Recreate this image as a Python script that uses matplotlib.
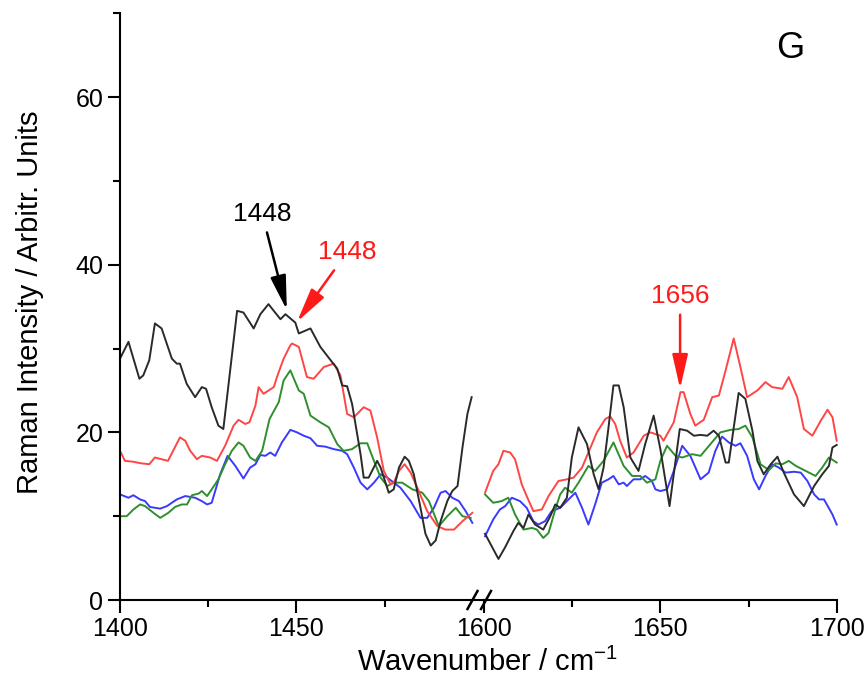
import matplotlib
matplotlib.use("Agg")
import matplotlib.pyplot as plt
from matplotlib.lines import Line2D
from matplotlib.ticker import FixedLocator

plt.rcParams['font.family'] = ['Liberation Sans', 'DejaVu Sans']
plt.rcParams['mathtext.default'] = 'regular'

# ---------------- data: left segment (1400-1500 cm-1) ----------------
black_l_x = [1400, 1402.4, 1405.5, 1406.6, 1408.3, 1409.9, 1411.8, 1414.7, 1416.1, 1417.0, 1418.9, 1421.3,
             1423.2, 1424.4, 1426.0, 1427.9, 1429.3, 1433.2, 1435.0, 1437.9, 1439.8, 1442.1, 1443.6, 1445.5,
             1446.9, 1449.7, 1450.7, 1454.0, 1456.8, 1460.1, 1461.6, 1463.0, 1464.4, 1465.8, 1468.2, 1469.1,
             1470.5, 1472.9, 1473.9, 1476.2, 1477.6, 1479.1, 1480.7, 1481.9, 1483.3, 1485.2, 1486.6, 1488.1,
             1489.5, 1490.9, 1492.8, 1494.2, 1495.7, 1497.1, 1498.5, 1499.7]
black_l_y = [28.8, 30.8, 26.4, 26.8, 28.6, 33.0, 32.4, 28.8, 28.2, 28.2, 25.8, 24.2,
             25.4, 25.2, 23.0, 20.8, 20.4, 34.5, 34.3, 32.4, 34.1, 35.3, 34.5, 33.5,
             34.1, 33.1, 31.8, 32.4, 30.2, 28.4, 27.6, 25.6, 25.5, 23.4, 17.4, 14.6,
             14.6, 16.6, 15.8, 12.8, 13.2, 15.8, 17.1, 16.6, 15.0, 11.0, 7.9, 6.5,
             7.1, 9.4, 11.8, 13.0, 13.6, 18.2, 22.2, 24.2]

red_l_x = [1400, 1401.4, 1403.7, 1406.1, 1408.3, 1409.9, 1413.6, 1417.0, 1418.5, 1419.9, 1421.8, 1423.2,
           1425.6, 1427.5, 1429.8, 1432.2, 1433.6, 1435.5, 1436.7, 1438.4, 1439.3, 1440.7, 1443.6, 1444.5,
           1446.4, 1448.3, 1448.8, 1450.7, 1453.0, 1454.9, 1457.8, 1460.6, 1462.5, 1464.4, 1466.3, 1469.1,
           1471.0, 1472.9, 1474.8, 1476.7, 1477.6, 1479.1, 1480.7, 1482.4, 1484.3, 1487.1, 1490.0, 1492.3,
           1494.7, 1497.1, 1499.9]
red_l_y = [17.8, 16.6, 16.5, 16.3, 16.2, 17.0, 16.6, 19.4, 19.0, 17.8, 16.8, 17.2,
           17.0, 16.6, 18.4, 20.8, 21.5, 21.0, 21.2, 23.2, 25.4, 24.6, 25.4, 26.6,
           28.8, 30.4, 30.6, 30.2, 26.6, 26.4, 27.8, 28.2, 26.8, 22.2, 21.8, 23.0,
           22.6, 19.4, 15.4, 13.8, 14.0, 15.4, 16.2, 15.2, 13.4, 10.6, 8.8, 8.4,
           8.4, 9.4, 10.4]

green_l_x = [1400, 1401.9, 1403.8, 1405.7, 1407.1, 1409.5, 1411.4, 1413.7, 1415.6, 1417.5, 1419.0, 1420.4,
             1422.3, 1423.2, 1424.7, 1426.0, 1427.9, 1429.8, 1431.7, 1433.6, 1435.0, 1436.9, 1438.4, 1440.3,
             1442.4, 1445.0, 1446.4, 1448.3, 1450.7, 1452.1, 1454.0, 1456.8, 1459.2, 1461.6, 1463.4, 1465.8,
             1468.2, 1470.1, 1472.0, 1473.9, 1475.8, 1477.6, 1480.0, 1482.9, 1485.7, 1487.6, 1490.4, 1492.8,
             1495.2, 1497.1, 1499.4]
green_l_y = [10.0, 10.0, 10.8, 11.4, 11.2, 10.4, 9.8, 10.4, 11.1, 11.4, 11.4, 12.5,
             12.7, 13.0, 12.4, 13.2, 14.4, 16.2, 17.8, 18.8, 18.4, 17.0, 16.6, 17.8,
             21.6, 23.6, 26.2, 27.4, 25.0, 24.6, 22.0, 21.2, 20.6, 18.6, 17.8, 18.0,
             18.7, 18.7, 16.6, 14.6, 13.6, 14.0, 14.0, 13.2, 12.8, 11.8, 8.8, 10.0,
             11.0, 10.0, 9.8]

blue_l_x = [1400, 1402.4, 1403.8, 1405.7, 1407.1, 1408.5, 1411.4, 1413.3, 1416.1, 1418.5, 1421.3, 1423.2,
            1424.7, 1426.0, 1428.4, 1430.5, 1432.7, 1435.0, 1436.9, 1438.4, 1439.8, 1441.2, 1442.6, 1444.0,
            1445.9, 1448.3, 1450.2, 1452.1, 1454.0, 1455.9, 1458.2, 1460.6, 1463.0, 1464.4, 1466.3, 1468.2,
            1470.1, 1472.0, 1473.9, 1475.8, 1477.6, 1479.5, 1482.4, 1485.2, 1487.1, 1489.0, 1490.9, 1492.3,
            1494.2, 1496.1, 1498.0, 1499.9]
blue_l_y = [12.6, 12.2, 12.5, 12.0, 11.8, 11.1, 10.9, 11.2, 12.0, 12.4, 12.2, 11.8,
            11.4, 11.6, 15.0, 17.2, 16.0, 14.5, 15.8, 16.2, 17.3, 17.2, 17.6, 17.2,
            18.8, 20.3, 20.0, 19.6, 19.3, 18.4, 18.3, 18.0, 17.8, 17.4, 15.8, 14.0,
            13.2, 14.0, 15.0, 14.6, 14.0, 13.4, 11.8, 9.8, 9.8, 11.0, 12.8, 13.0,
            12.2, 11.8, 10.6, 9.2]

# ---------------- data: right segment (1600-1700 cm-1) ----------------
black_r_x = [1600.3, 1604.1, 1606.0, 1608.3, 1609.7, 1611.2, 1612.6, 1614.5, 1616.8, 1618.8, 1620.2, 1621.6,
             1623.5, 1624.9, 1626.8, 1629.2, 1631.1, 1632.5, 1633.9, 1635.3, 1636.7, 1638.2, 1639.6, 1641.5,
             1643.8, 1645.7, 1648.1, 1650.0, 1652.6, 1655.5, 1657.6, 1659.5, 1661.4, 1663.3, 1665.1, 1666.6,
             1668.5, 1669.4, 1672.2, 1674.1, 1676.1, 1677.5, 1679.3, 1681.3, 1683.2, 1685.0, 1687.9, 1690.7,
             1693.6, 1695.9, 1697.8, 1698.8, 1700.0]
black_r_y = [7.9, 4.9, 6.3, 8.2, 9.2, 8.6, 10.2, 9.0, 8.4, 10.0, 11.4, 11.0,
             12.2, 17.0, 20.6, 18.6, 15.0, 13.2, 15.8, 20.6, 25.6, 25.6, 23.0, 17.0,
             15.4, 18.6, 22.0, 18.0, 11.2, 20.4, 20.2, 19.6, 19.7, 19.6, 20.2, 19.6,
             16.4, 16.4, 24.7, 24.0, 20.2, 16.6, 15.0, 16.2, 17.1, 15.2, 12.6, 11.2,
             13.6, 15.0, 16.0, 18.2, 18.5]

red_r_x = [1600.3, 1602.6, 1604.1, 1605.5, 1607.4, 1608.8, 1610.7, 1612.1, 1614.0, 1616.4, 1618.3, 1621.1,
           1623.5, 1625.4, 1627.8, 1629.6, 1632.0, 1634.4, 1635.8, 1637.2, 1638.6, 1640.5, 1642.4, 1645.3,
           1647.2, 1650.0, 1650.9, 1653.8, 1655.7, 1656.6, 1658.5, 1659.9, 1662.3, 1664.7, 1666.6, 1668.5,
           1670.8, 1672.7, 1674.6, 1677.5, 1679.8, 1681.7, 1684.6, 1686.4, 1688.8, 1690.7, 1693.1, 1695.5,
           1697.4, 1698.8, 1700.0]
red_r_y = [12.8, 15.4, 16.2, 17.8, 17.6, 16.8, 13.8, 12.4, 10.6, 10.8, 12.4, 14.2,
           14.4, 14.6, 15.8, 17.6, 20.0, 21.6, 21.9, 21.0, 19.0, 17.0, 17.6, 19.6,
           20.0, 19.6, 19.0, 21.2, 24.8, 24.8, 22.2, 20.8, 21.5, 24.2, 24.4, 27.4,
           31.2, 27.8, 24.2, 25.0, 26.0, 25.4, 25.2, 26.6, 24.2, 20.4, 19.6, 21.4,
           22.7, 21.8, 19.0]

green_r_x = [1600.3, 1602.6, 1605.0, 1606.9, 1608.8, 1611.2, 1613.6, 1615.0, 1616.8, 1618.3, 1620.2, 1621.6,
             1623.0, 1624.9, 1626.8, 1629.6, 1631.5, 1633.9, 1636.7, 1639.6, 1642.0, 1644.3, 1646.2, 1648.6,
             1650.0, 1651.9, 1654.3, 1656.2, 1659.0, 1661.4, 1664.2, 1667.0, 1669.9, 1672.2, 1674.1, 1676.1,
             1678.4, 1680.8, 1682.7, 1684.6, 1686.4, 1688.4, 1691.2, 1694.0, 1695.9, 1697.8, 1700.0]
green_r_y = [12.6, 11.6, 11.8, 12.2, 10.2, 8.4, 8.6, 8.4, 7.4, 8.0, 10.8, 12.6,
             13.4, 12.8, 14.0, 16.0, 15.4, 16.6, 18.8, 16.0, 14.8, 14.8, 14.0, 14.4,
             16.6, 18.4, 17.2, 17.0, 17.4, 17.2, 18.6, 20.0, 20.3, 20.4, 20.8, 19.4,
             16.2, 15.5, 16.3, 16.2, 16.6, 16.0, 15.4, 14.8, 15.8, 17.0, 16.4]

blue_r_x = [1600.3, 1602.6, 1604.5, 1606.0, 1607.9, 1610.2, 1612.1, 1614.0, 1615.4, 1617.3, 1619.2, 1621.6,
            1623.5, 1625.9, 1627.8, 1629.6, 1631.5, 1633.4, 1635.3, 1636.7, 1638.2, 1639.6, 1640.5, 1642.4,
            1644.3, 1645.7, 1647.6, 1648.6, 1650.0, 1651.9, 1653.8, 1656.2, 1658.5, 1661.4, 1663.7, 1665.6,
            1667.5, 1669.4, 1671.3, 1672.7, 1674.6, 1676.5, 1678.0, 1679.8, 1681.7, 1683.6, 1685.5, 1687.9,
            1689.8, 1691.7, 1693.6, 1695.0, 1696.4, 1698.8, 1700.0]
blue_r_y = [7.6, 9.6, 10.8, 11.2, 12.2, 11.8, 11.0, 9.4, 9.0, 9.4, 10.6, 11.0,
            11.8, 12.8, 11.0, 9.0, 11.4, 14.0, 14.4, 14.8, 13.8, 14.0, 13.6, 14.4,
            14.4, 14.8, 14.2, 13.2, 13.0, 13.2, 15.4, 18.4, 17.2, 14.4, 15.2, 17.8,
            19.5, 18.8, 18.4, 18.7, 17.2, 14.4, 13.2, 14.8, 16.2, 15.8, 15.2, 15.3,
            15.2, 14.2, 12.6, 12.0, 12.0, 10.2, 9.0]

x_major_left = [1400, 1450]
x_minor_left = [1425, 1475]
x_major_right = [1600, 1650, 1700]
x_minor_right = [1625, 1675]
y_major = [0, 20, 40, 60]
y_minor = [10, 30, 50, 70]

# ---------------- figure ----------------
W, H = 868, 687
fig = plt.figure(figsize=(W / 100, H / 100), dpi=100)

def fx(px):
    return px / W

def fy(py):
    return 1 - py / H

x0, xb, x1 = 120, 484, 836.7
ytop, ybot = 13.3, 600
ax1 = fig.add_axes([fx(x0), fy(ybot), fx(xb - x0), (ybot - ytop) / H])
ax2 = fig.add_axes([fx(xb), fy(ybot), fx(x1 - xb), (ybot - ytop) / H])

scale = (x1 - xb) / 100.0
ax1.set_xlim(1400, 1400 + (xb - x0) / scale)
ax2.set_xlim(1600, 1700)
for ax in (ax1, ax2):
    ax.set_ylim(0, 70)
    ax.spines['top'].set_visible(False)
    ax.spines['right'].set_visible(False)
    ax.spines['bottom'].set_linewidth(1.5)
    ax.spines['left'].set_linewidth(1.5)
    ax.tick_params(which='major', direction='out', length=9, width=1.5, labelsize=18, pad=3)
    ax.tick_params(which='minor', direction='out', length=5, width=1.5)
ax2.spines['left'].set_visible(False)
ax2.tick_params(axis='y', which='both', left=False, labelleft=False)

ax1.xaxis.set_major_locator(FixedLocator(x_major_left))
ax1.xaxis.set_minor_locator(FixedLocator(x_minor_left))
ax2.xaxis.set_major_locator(FixedLocator(x_major_right))
ax2.xaxis.set_minor_locator(FixedLocator(x_minor_right))
ax1.yaxis.set_major_locator(FixedLocator(y_major))
ax1.yaxis.set_minor_locator(FixedLocator(y_minor))
ax1.set_xticklabels([str(v) for v in x_major_left])
ax2.set_xticklabels([str(v) for v in x_major_right])
ax1.set_yticklabels([str(v) for v in y_major])

c_black = '#2a2a2a'
c_red = '#ff4545'
c_green = '#2f8f2f'
c_blue = '#3a3aff'
lw = 1.4
for ax, sets in ((ax1, [(blue_l_x, blue_l_y, c_blue), (green_l_x, green_l_y, c_green),
                        (red_l_x, red_l_y, c_red), (black_l_x, black_l_y, c_black)]),
                 (ax2, [(blue_r_x, blue_r_y, c_blue), (green_r_x, green_r_y, c_green),
                        (red_r_x, red_r_y, c_red), (black_r_x, black_r_y, c_black)])):
    for xs, ys, c in sets:
        ax.plot(xs, ys, color=c, lw=lw, clip_on=False)

# annotations
arrow_kw = dict(arrowstyle='-|>,head_length=1.1,head_width=0.25', lw=1.8, shrinkA=3, shrinkB=0)
ax1.annotate('1448', xy=(1447.3, 34.6), xytext=(1440.3, 46.1), fontsize=19, color='black',
             ha='center', va='center', arrowprops=dict(color='black', **arrow_kw))
ax1.annotate('1448', xy=(1450.2, 33.2), xytext=(1464.4, 41.5), fontsize=19, color='#ff1a1a',
             ha='center', va='center', arrowprops=dict(color='#ff1a1a', **arrow_kw))
ax2.annotate('1656', xy=(1655.6, 25.2), xytext=(1655.6, 36.3), fontsize=19, color='#ff1a1a',
             ha='center', va='center', arrowprops=dict(color='#ff1a1a', **arrow_kw))

# break marks on x-axis
for cx in (472.5, 486):
    fig.add_artist(Line2D([fx(cx - 5), fx(cx + 5)], [fy(ybot + 9), fy(ybot - 9)],
                          color='black', lw=1.8, transform=fig.transFigure))

fig.text(fx(790), fy(48), 'G', fontsize=26, ha='center', va='center')
fig.text(fx(487), fy(662), r'Wavenumber / cm$^{-1}$', fontsize=21, ha='center', va='center')
fig.text(fx(30), fy(302), 'Raman Intensity / Arbitr. Units', fontsize=21, ha='center', va='center',
         rotation=90)

fig.savefig('out.png', dpi=100)
